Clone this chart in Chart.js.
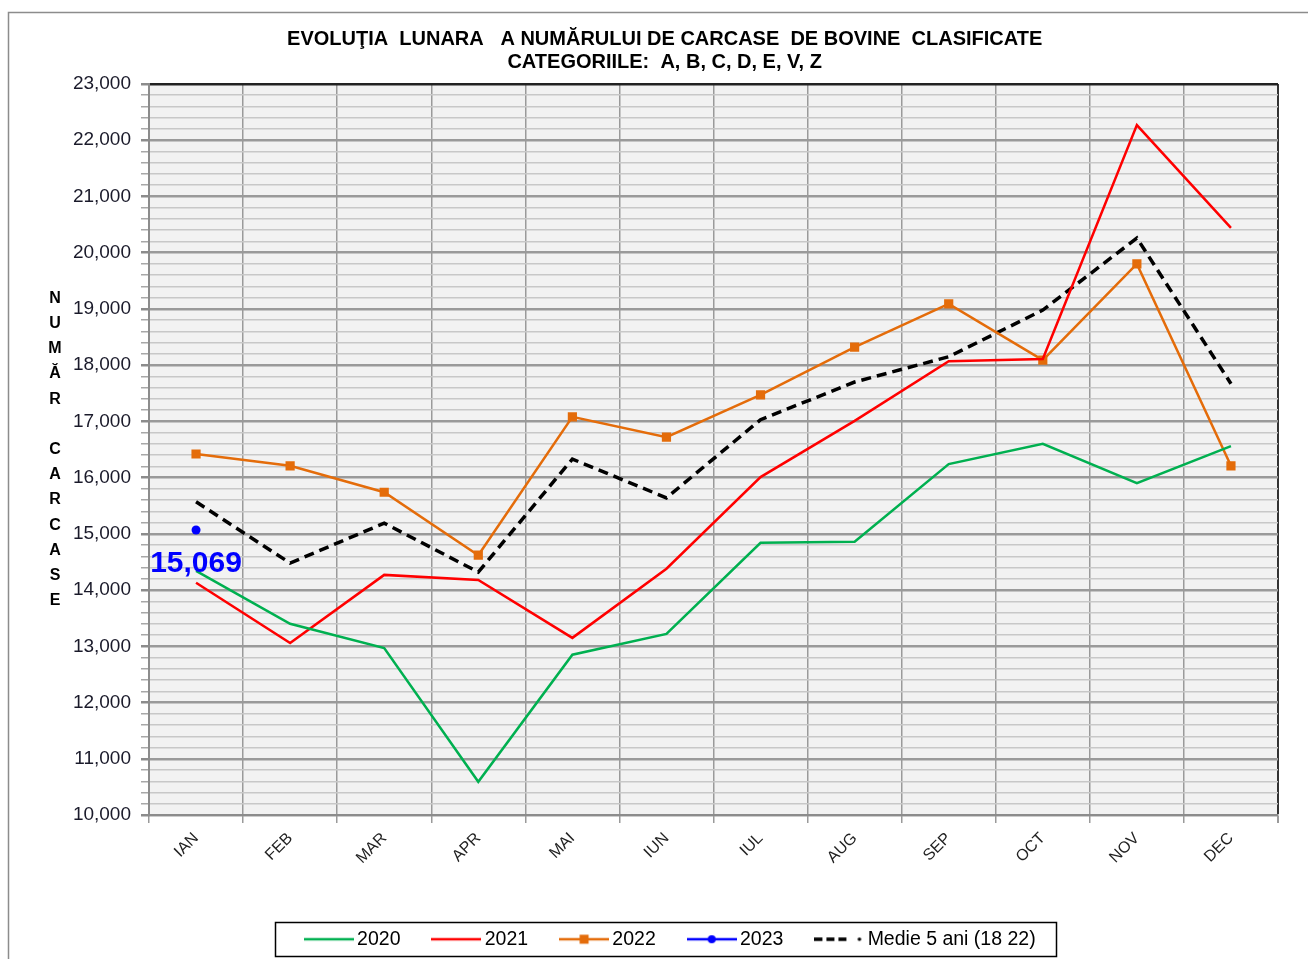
<!DOCTYPE html>
<html><head><meta charset="utf-8">
<script src="https://cdn.jsdelivr.net/npm/chart.js@4.4.1/dist/chart.umd.min.js"></script>
<style>html,body{margin:0;padding:0;background:#fff}#wrap{width:1308px;height:959px;position:relative}</style>
</head><body><div id="wrap"><canvas id="c" width="1308" height="959"></canvas></div>
<script>
// ---- data ----
const months = ['IAN','FEB','MAR','APR','MAI','IUN','IUL','AUG','SEP','OCT','NOV','DEC'];
const s2020 = [14340,13400,12970,10590,12850,13220,14840,14860,16240,16600,15900,16560];
const s2021 = [14130,13060,14270,14180,13150,14380,16010,17010,18070,18110,22270,20440];
const s2022 = [16420,16210,15740,14620,17080,16720,17470,18320,19090,18090,19800,16210];
const s2023 = [15069,null,null,null,null,null,null,null,null,null,null,null];
const medie = [15570,14480,15190,14320,16330,15640,17030,17700,18150,18980,20260,17670];
const seriesNames = ['2020','2021','2022','2023','Medie 5 ani (18 22)'];
const yMin = 10000, yMax = 23000, yMajor = 1000, yMinor = 200;
const titleLines = ['EVOLUŢIA  LUNARA   A NUMĂRULUI DE CARCASE  DE BOVINE  CLASIFICATE   ','CATEGORIILE:  A, B, C, D, E, V, Z   '];
const yTitleLetters = ['N','U','M','Ă','R','','C','A','R','C','A','S','E'];

const FONT = "'Liberation Sans', Arial, sans-serif";
const C2020 = '#00b050', C2021 = '#ff0000', C2022 = '#e46c0a', C2023 = '#0000ff', CMED = '#000000';

function makeIcon(color, kind){
  const c = document.createElement('canvas'); c.width = 50; c.height = 14;
  const g = c.getContext('2d');
  g.strokeStyle = color; g.fillStyle = color;
  if (kind === 'dash') {
    g.lineWidth = 3.5; g.setLineDash([8,4]);
    g.beginPath(); g.moveTo(0,7); g.lineTo(36,7); g.stroke();
    g.setLineDash([]); g.beginPath(); g.arc(45,7,1.8,0,Math.PI*2); g.fill();
  } else {
    g.lineWidth = 2.5; g.beginPath(); g.moveTo(0,7); g.lineTo(50,7); g.stroke();
    if (kind === 'rect') g.fillRect(20.5,2.5,9,9);
    if (kind === 'circle') { g.beginPath(); g.arc(25,7,4,0,Math.PI*2); g.fill(); }
  }
  return c;
}
const icons = [makeIcon(C2020,'line'), makeIcon(C2021,'line'), makeIcon(C2022,'rect'), makeIcon(C2023,'circle'), makeIcon(CMED,'dash')];

const bgPlugin = {
  id: 'bg',
  beforeDraw(chart){
    const {ctx, chartArea: a} = chart;
    ctx.save();
    ctx.fillStyle = '#ffffff'; ctx.fillRect(0,0,chart.width,chart.height);
    ctx.strokeStyle = '#8c8c8c'; ctx.lineWidth = 1.5;
    ctx.strokeRect(8.5, 12.5, chart.width + 20, chart.height + 20);
    ctx.fillStyle = '#f2f2f2'; ctx.fillRect(a.left, a.top, a.right - a.left, a.bottom - a.top);
    ctx.restore();
  },
  afterDatasetsDraw(chart){
    const ctx = chart.ctx;
    const meta = chart.getDatasetMeta(3);
    const pt = meta.data[0];
    const v = chart.data.datasets[3].data[0];
    ctx.save();
    ctx.fillStyle = C2023; ctx.font = 'bold 30px ' + FONT;
    ctx.textAlign = 'center'; ctx.textBaseline = 'middle';
    ctx.fillText(v.toLocaleString('en-US'), pt.x, pt.y + 34);
    ctx.restore();
  },
  afterDraw(chart){
    const {ctx, chartArea: a} = chart;
    ctx.save();
    // y axis title, stacked letters
    ctx.fillStyle = '#000'; ctx.font = 'bold 16px ' + FONT;
    ctx.textAlign = 'center'; ctx.textBaseline = 'middle';
    const mid = (a.top + a.bottom)/2, step = 25.2;
    yTitleLetters.forEach((ch,i) => ctx.fillText(ch, 55, mid + (i - 6)*step));
    // legend frame
    const lg = chart.legend;
    if (lg && lg.legendHitBoxes.length){
      const hb = lg.legendHitBoxes;
      const l = Math.min(...hb.map(h=>h.left)) - 35;
      const r = Math.max(...hb.map(h=>h.left + h.width)) + 21;
      const cy = hb[0].top + hb[0].height/2;
      ctx.strokeStyle = '#000'; ctx.lineWidth = 1.5;
      ctx.strokeRect(Math.round(l)+0.5, Math.round(cy - 17)+0.5, Math.round(r - l), 34);
    }
    ctx.restore();
  }
};

const ds = (label, data, color, extra) => Object.assign({
  label, data, borderColor: color, backgroundColor: color,
  borderWidth: 2.5, pointRadius: 0, tension: 0, spanGaps: false
}, extra || {});

new Chart(document.getElementById('c'), {
  type: 'line',
  data: {
    labels: months,
    datasets: [
      ds(seriesNames[0], s2020, C2020),
      ds(seriesNames[1], s2021, C2021),
      ds(seriesNames[2], s2022, C2022, {pointRadius: 6.5, pointStyle: 'rect', pointBorderWidth: 0}),
      ds(seriesNames[3], s2023, C2023, {pointRadius: 4.5, pointStyle: 'circle', pointBorderWidth: 0}),
      ds(seriesNames[4], medie, CMED, {borderWidth: 3.5, borderDash: [10,6]})
    ]
  },
  options: {
    responsive: false, animation: false,
    layout: { padding: { left: 38, right: 0, top: 0, bottom: 0 } },
    plugins: {
      tooltip: { enabled: false },
      title: {
        display: true, text: titleLines, color: '#000',
        font: { family: FONT, size: 20, weight: 'bold', lineHeight: 1.15 },
        padding: { top: 28, bottom: 10 }
      },
      legend: {
        position: 'bottom',
        labels: {
          usePointStyle: true, pointStyleWidth: 37, padding: 37.5,
          color: '#000', font: { family: FONT, size: 19.5 },
          generateLabels(chart){
            return chart.data.datasets.map((d,i) => ({
              text: d.label, pointStyle: icons[i], fillStyle: d.borderColor,
              strokeStyle: d.borderColor, lineWidth: 0, hidden: false, datasetIndex: i, fontColor: '#000'
            }));
          }
        }
      }
    },
    scales: {
      x: {
        offset: true,
        grid: {
          offset: true, drawTicks: true, tickLength: 8,
          color: c => c.index === undefined ? '#333333' : '#9a9a9a',
          lineWidth: c => c.index === undefined ? 2 : 1.5,
          tickColor: '#9a9a9a'
        },
        border: { display: true, color: '#8c8c8c', width: 2 },
        ticks: { minRotation: 45, maxRotation: 45, padding: 6, color: '#222', font: { family: FONT, size: 16 } },
        afterFit(s){ s.height = 77; }
      },
      y: {
        min: yMin, max: yMax,
        grid: {
          drawTicks: true, tickLength: 8,
          color: c => { const v = c.tick.value; return v === yMax ? '#222222' : (v % yMajor === 0 ? '#9a9a9a' : '#c8c8c8'); },
          lineWidth: c => { const v = c.tick.value; return v % yMajor === 0 ? 2.5 : 1.5; },
          tickColor: c => (c.tick && c.tick.value % yMajor === 0) ? '#8c8c8c' : '#a8a8a8'
        },
        border: { display: true, color: '#8c8c8c', width: 2 },
        ticks: {
          stepSize: yMinor, autoSkip: false, padding: 10, color: '#1a1a2a',
          font: { family: FONT, size: 19 },
          callback: v => (v % yMajor === 0) ? Number(v).toLocaleString('en-US') : ''
        },
        afterFit(s){ s.width = 111; }
      },
      yR: {
        position: 'right', display: true, min: yMin, max: yMax,
        grid: { display: false, drawTicks: false }, border: { display: false },
        ticks: { display: false },
        afterFit(s){ s.width = 30; }
      }
    }
  },
  plugins: [bgPlugin]
});
</script></body></html>
